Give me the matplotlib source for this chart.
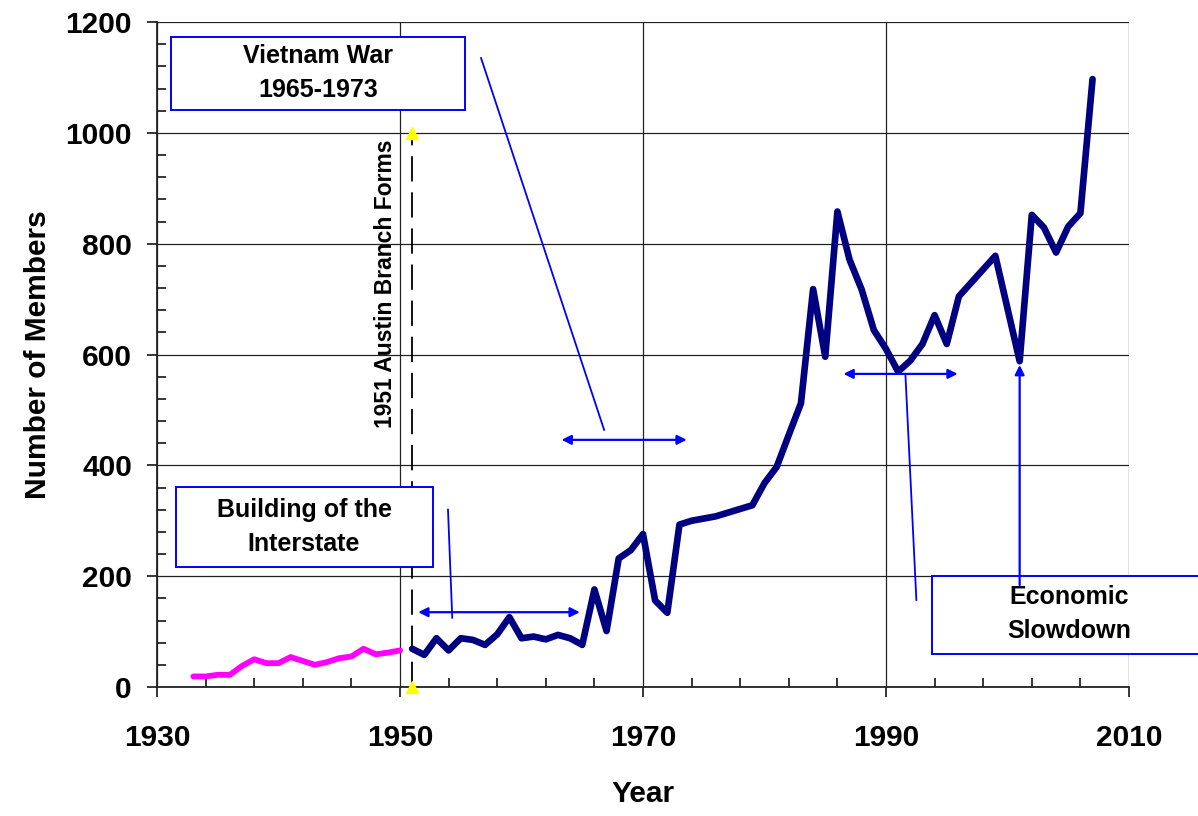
import matplotlib
matplotlib.use('Agg')
import matplotlib.pyplot as plt
from matplotlib.patches import Rectangle

matplotlib.rcParams['font.family'] = ['Liberation Sans', 'DejaVu Sans']

# ── Data ──────────────────────────────────────────────────────────────────────
early_years = [1933, 1934, 1935, 1936, 1937, 1938, 1939, 1940, 1941, 1942,
               1943, 1944, 1945, 1946, 1947, 1948, 1949, 1950]
early_members = [19, 19, 22, 22, 38, 50, 43, 43, 54, 47,
                 40, 45, 52, 55, 69, 59, 62, 66]

branch_years = [1951, 1952, 1953, 1954, 1955, 1956, 1957, 1958, 1959, 1960,
                1961, 1962, 1963, 1964, 1965, 1966, 1967, 1968, 1969, 1970,
                1971, 1972, 1973, 1974, 1976, 1979, 1980, 1981, 1982, 1983,
                1984, 1985, 1986, 1987, 1988, 1989, 1990, 1991, 1992, 1993,
                1994, 1995, 1996, 1999, 2001, 2002, 2003, 2004, 2005, 2006,
                2007]
branch_members = [69, 58, 88, 66, 88, 85, 76, 95, 126, 88,
                  91, 86, 94, 88, 76, 176, 101, 232, 247, 276,
                  156, 134, 293, 300, 308, 328, 368, 397, 455, 512,
                  718, 596, 858, 771, 717, 644, 610, 569, 589, 619,
                  671, 619, 705, 778, 588, 852, 829, 784, 831, 855,
                  1097]

x_major = [1930, 1950, 1970, 1990, 2010]
x_minor = list(range(1930, 2011, 4))
y_major = [0, 200, 400, 600, 800, 1000, 1200]
y_minor = list(range(0, 1201, 40))

BLUE = '#0000FF'
NAVY = '#000080'
PINK = '#FF00FF'

fig = plt.figure(figsize=(11.98, 8.16), dpi=100)
ax = fig.add_axes([157/1198, 1 - 687/816, (1129 - 157)/1198, (687 - 22)/816])

ax.plot(early_years, early_members, color=PINK, lw=4.2, solid_capstyle='round',
        solid_joinstyle='round', zorder=4)
ax.plot(branch_years, branch_members, color=NAVY, lw=4.8, solid_capstyle='round',
        solid_joinstyle='round', zorder=4)

ax.set_xlim(1930, 2010)
ax.set_ylim(0, 1200)
ax.set_xticks(x_major)
ax.set_xticks(x_minor, minor=True)
ax.set_yticks(y_major)
ax.set_yticks(y_minor, minor=True)
ax.grid(True, which='major', color='#222222', lw=0.9, zorder=1)
ax.set_axisbelow(True)
for s in ['top', 'right']:
    ax.spines[s].set_visible(False)
for s in ['left', 'bottom']:
    ax.spines[s].set_linewidth(1.3)
    ax.spines[s].set_color('#222222')

ax.tick_params(which='major', direction='out', length=7, width=1.1, labelsize=21.5)
ax.tick_params(which='minor', direction='in', length=6.5, width=1.1)
ax.tick_params(axis='x', which='major', pad=20)
ax.tick_params(axis='y', which='major', pad=11)
for lab in ax.get_xticklabels() + ax.get_yticklabels():
    lab.set_fontweight('bold')

ax.set_xlabel('Year', fontsize=21.5, fontweight='bold', labelpad=20)
ax.set_ylabel('Number of Members', fontsize=21.5, fontweight='bold', labelpad=10)

# ── 1951 branch marker ────────────────────────────────────────────────────────
ax.plot([1951, 1951], [0, 1000], color='black', lw=1.3, dashes=(14, 6), zorder=3)
ax.plot([1951, 1951], [0, 1000], ls='none', marker='^', color='#FFFF00',
        markersize=8, clip_on=False, zorder=5)
ax.text(1948.8, 727, '1951 Austin Branch Forms', rotation=90, ha='center',
        va='center', fontsize=16.5, fontweight='bold', zorder=5)

# ── Annotation boxes ──────────────────────────────────────────────────────────
def note(x0, y0, x1, y1, text, tx, ty):
    ax.add_patch(Rectangle((x0, y0), x1 - x0, y1 - y0, facecolor='white',
                           edgecolor=BLUE, lw=1.4, clip_on=False, zorder=6))
    ax.text(tx, ty, text, ha='center', va='center', fontsize=18,
            fontweight='bold', linespacing=1.55, zorder=7)

def harrow(x1, x2, y):
    ax.annotate('', xy=(x1, y), xytext=(x2, y),
                arrowprops=dict(arrowstyle='<|-|>', color=BLUE, lw=1.6,
                                mutation_scale=14, shrinkA=0, shrinkB=0),
                zorder=6)

note(1931.15, 1041, 1955.35, 1173, 'Vietnam War\n1965-1973', 1943.25, 1108)
ax.plot([1956.67, 1966.8], [1135, 464], color=BLUE, lw=1.3, zorder=6)
harrow(1963.3, 1973.6, 446)

note(1931.56, 217, 1952.7, 361, 'Building of the\nInterstate', 1942.1, 289)
ax.plot([1953.95, 1954.3], [320, 125], color=BLUE, lw=1.3, zorder=6)
harrow(1951.5, 1964.8, 135)

note(1993.8, 60, 2025, 200, 'Economic\nSlowdown', 2005.1, 132)
ax.plot([1991.6, 1992.5], [563, 157], color=BLUE, lw=1.3, zorder=6)
harrow(1986.5, 1995.9, 565)
ax.annotate('', xy=(2001.0, 581), xytext=(2001.0, 184),
            arrowprops=dict(arrowstyle='-|>', color=BLUE, lw=1.6,
                            mutation_scale=14, shrinkA=0, shrinkB=0),
            zorder=6)

fig.savefig('out.png', dpi=100, facecolor='white')
